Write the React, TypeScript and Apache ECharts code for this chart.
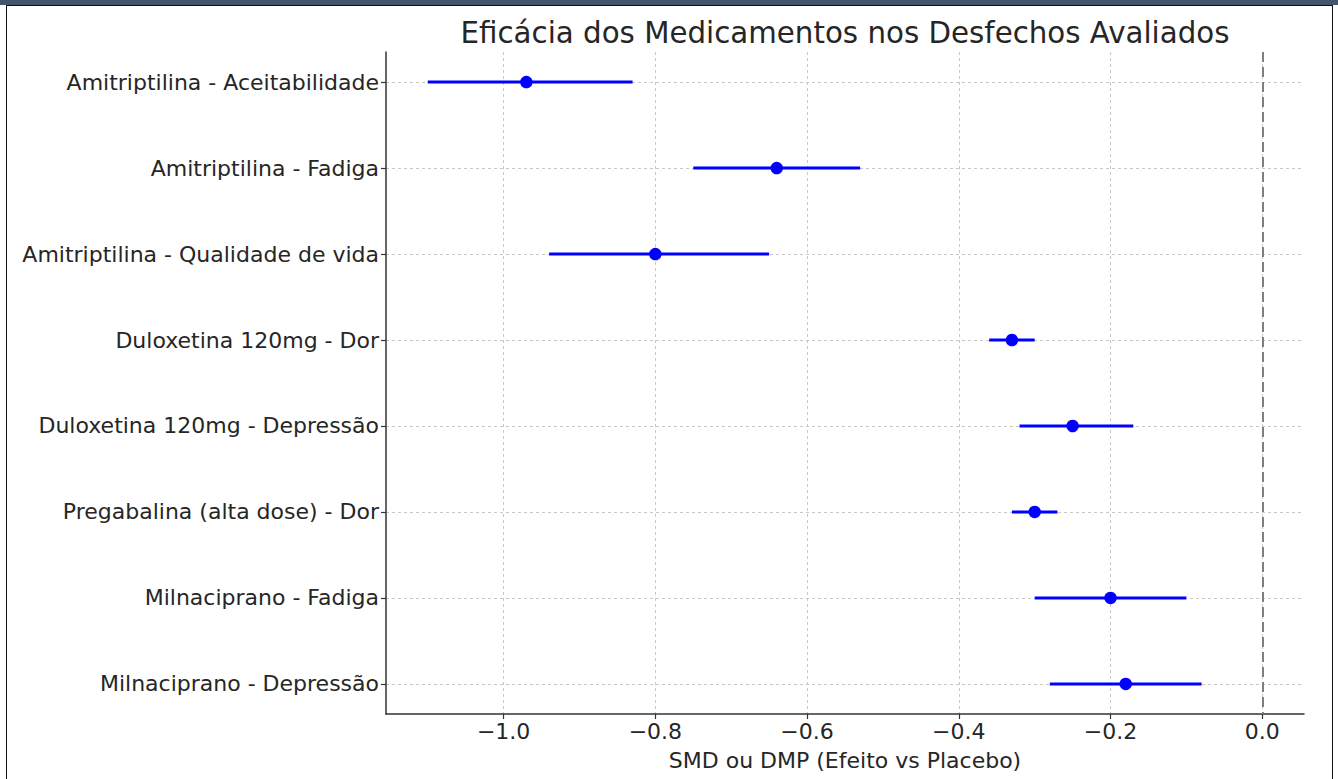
import React, { useEffect, useRef } from "react";
import * as echarts from "echarts";

const categories = [
  "Amitriptilina - Aceitabilidade",
  "Amitriptilina - Fadiga",
  "Amitriptilina - Qualidade de vida",
  "Duloxetina 120mg - Dor",
  "Duloxetina 120mg - Depressão",
  "Pregabalina (alta dose) - Dor",
  "Milnaciprano - Fadiga",
  "Milnaciprano - Depressão",
];
const effects = [-0.97, -0.64, -0.8, -0.33, -0.25, -0.3, -0.2, -0.18];
const lower = [-1.1, -0.75, -0.94, -0.36, -0.32, -0.33, -0.3, -0.28];
const upper = [-0.83, -0.53, -0.65, -0.3, -0.17, -0.27, -0.1, -0.08];
const xTicks = [-1.0, -0.8, -0.6, -0.4, -0.2, 0.0];
const yTicks = categories.map((_, i) => i);
const refLine = 0;

const FONT = "DejaVu Sans";
const TEXT = "#262626";

export default function App() {
  const ref = useRef<HTMLDivElement>(null);
  useEffect(() => {
    if (!ref.current) return;
    const chart = echarts.init(ref.current, null, { renderer: "svg" });
    const barData = categories.map((_, i) => [lower[i], upper[i], i]);
    const pointData = categories.map((_, i) => [effects[i], i]);
    chart.setOption({
      animation: false,
      backgroundColor: "#ffffff",
      title: {
        text: "Eficácia dos Medicamentos nos Desfechos Avaliados",
        left: 840,
        textAlign: "center",
        top: 13,
        textStyle: { fontFamily: FONT, fontSize: 29.3, fontWeight: "normal", color: TEXT },
      },
      grid: { left: 386, right: 34, top: 52, bottom: 65, containLabel: false },
      xAxis: {
        type: "value",
        min: -1.155,
        max: 0.055,
        name: "SMD ou DMP (Efeito vs Placebo)",
        nameLocation: "middle",
        nameGap: 35,
        nameTextStyle: { fontFamily: FONT, fontSize: 22, color: TEXT },
        axisLine: { show: true, onZero: false, lineStyle: { color: "#333333", width: 1.5 } },
        axisTick: { show: true, length: 5, customValues: xTicks, lineStyle: { color: "#333333", width: 1.2 } },
        axisLabel: {
          customValues: xTicks,
          margin: 6,
          fontFamily: FONT,
          fontSize: 22,
          color: TEXT,
          formatter: (v: number) => (v < -1e-9 ? "\u2212" : "") + Math.abs(v).toFixed(1),
        },
        splitLine: { show: true, lineStyle: { color: "#c8c8c8", type: [3, 3], width: 1 } },
      },
      yAxis: {
        type: "value",
        inverse: true,
        min: -0.35,
        max: 7.35,
        axisLine: { show: true, onZero: false, lineStyle: { color: "#333333", width: 1.5 } },
        axisTick: { show: true, length: 5, customValues: yTicks, lineStyle: { color: "#333333", width: 1.2 } },
        axisLabel: {
          customValues: yTicks,
          margin: 7,
          fontFamily: FONT,
          fontSize: 22,
          color: TEXT,
          formatter: (v: number) => categories[Math.round(v)] ?? "",
        },
        splitLine: { show: true, lineStyle: { color: "#c8c8c8", type: [3, 3], width: 1 } },
      },
      series: [
        {
          type: "custom",
          data: barData,
          encode: { x: [0, 1], y: 2 },
          z: 3,
          renderItem: (params: any, api: any) => {
            const a = api.coord([api.value(0), api.value(2)]);
            const b = api.coord([api.value(1), api.value(2)]);
            return {
              type: "line",
              shape: { x1: a[0], y1: a[1], x2: b[0], y2: b[1] },
              style: { stroke: "#0000ff", lineWidth: 3 },
            };
          },
        },
        {
          type: "scatter",
          data: pointData,
          symbol: "circle",
          symbolSize: 12.5,
          z: 4,
          itemStyle: { color: "#0000ff", opacity: 1 },
          markLine: {
            silent: true,
            symbol: ["none", "none"],
            label: { show: false },
            lineStyle: { color: "#7f7f7f", type: [10, 5], width: 2 },
            data: [{ xAxis: refLine }],
          },
        },
      ],
    });
    return () => chart.dispose();
  }, []);
  return (
    <div style={{ position: "fixed", left: 0, top: 0, width: 1338, height: 779, background: "#fff" }}>
      <div ref={ref} style={{ position: "absolute", left: 0, top: 0, width: 1338, height: 779 }} />
      <div style={{ position: "absolute", left: 0, top: 0, width: 1338, height: 5, background: "#44546a", pointerEvents: "none" }} />
      <div
        style={{
          position: "absolute",
          left: 6,
          top: 5,
          width: 1327,
          height: 774,
          borderLeft: "1.5px solid #111",
          borderTop: "1.5px solid #111",
          borderRight: "1.5px solid #111",
          pointerEvents: "none",
          boxSizing: "border-box",
        }}
      />
    </div>
  );
}
